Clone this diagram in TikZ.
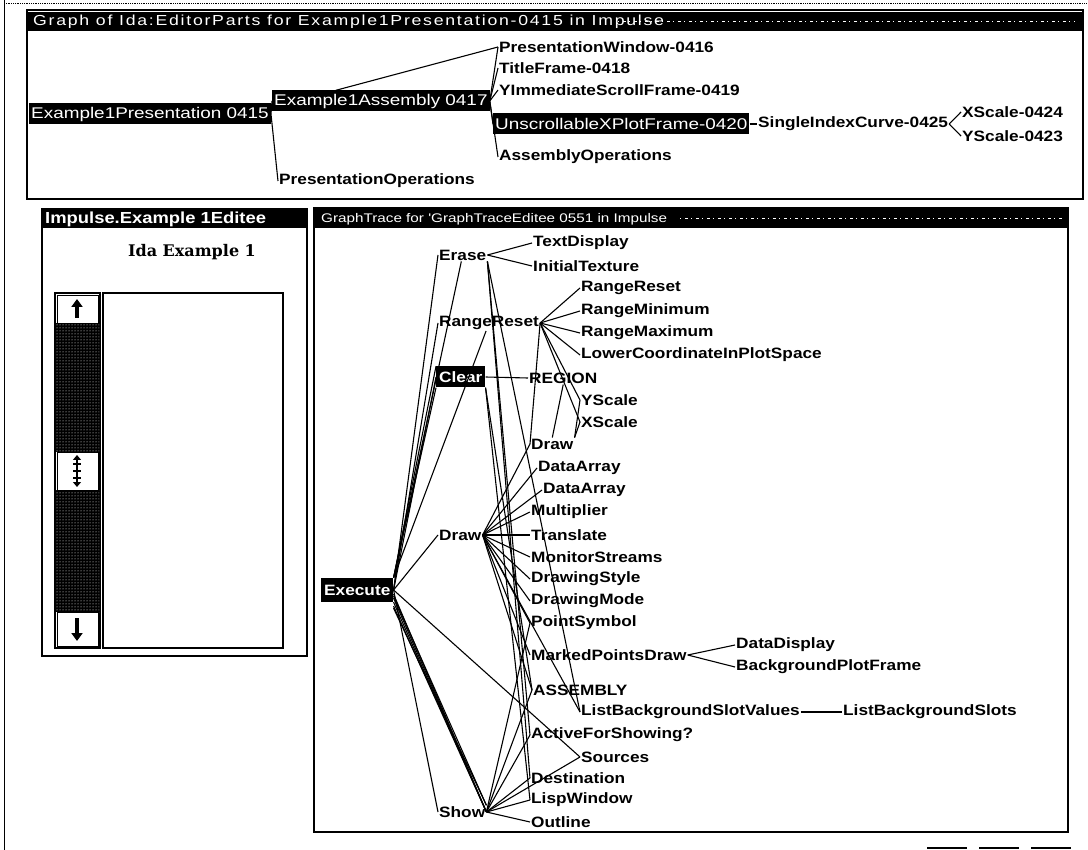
\documentclass[tikz,border=0pt]{standalone}
\usepackage{fontspec}
\setmainfont{Liberation Sans}
\newfontfamily\boxfont[FakeStretch=1.22]{Liberation Sans}
\newfontfamily\lblfont[FakeStretch=1.15]{Liberation Sans}
\newfontfamily\ttlfont[FakeStretch=1.22]{Liberation Sans}
\newfontfamily\gttlfont[FakeStretch=1.22,LetterSpace=12]{Liberation Sans}
\newfontfamily\slabfont{DejaVu Serif}
\usetikzlibrary{arrows.meta,patterns}

\begin{document}
\begin{tikzpicture}[x=1pt,y=-1pt,
  lbl/.style={anchor=west,inner sep=1pt,font=\lblfont\bfseries\fontsize{15}{15}\selectfont},
  blk/.style={anchor=west,fill=black,text=white,inner sep=2pt,minimum height=21pt,font=\boxfont\fontsize{15.5}{15.5}\selectfont},
  bblk/.style={blk,font=\lblfont\bfseries\fontsize{15}{15}\selectfont,inner sep=3pt},
  ttl/.style={anchor=west,text=white,inner sep=0pt},
  win/.style={draw,line width=1.2pt,fill=white},
  tbar/.style={fill=black},
  noise/.style={white!45,line width=1pt,dash pattern=on 1pt off 4pt on 3pt off 3pt},
  edge/.style={line width=1.1pt},
  stip/.style={fill=black,postaction={pattern=dots,pattern color=white}}]
\useasboundingbox (0,0) rectangle (1088,850);
\fill[white] (0,0) rectangle (1088,850);
% screen edges
\draw[line width=1pt] (4,0) -- (4,850);
\draw[line width=0.8pt,densely dotted] (4,3) -- (1086,3);
\draw[line width=1.6pt,dash pattern=on 40pt off 12pt] (927,848) -- (1072,848);

% ---- graph of editor parts
\draw[win] (27,10) rectangle (1083,199);
\fill[tbar] (27,12) rectangle (1083,31);
\node[ttl,font=\gttlfont\fontsize{14.5}{14.5}\selectfont] (gtitle) at (33,22) {Graph of Ida:EditorParts for Example1Presentation-0415 in Impulse};
\draw[noise] (618,22) -- (1075,22);

\node[blk] (pres) at (29,114) {Example1Presentation 0415};
\node[blk] (asm) at (272,101) {Example1Assembly 0417};
\node[lbl] (pops) at (278,181) {PresentationOperations};
\node[lbl] (pwin) at (498,47) {PresentationWindow-0416};
\node[lbl] (tfr) at (498,68) {TitleFrame-0418};
\node[lbl] (yimm) at (498,90) {YImmediateScrollFrame-0419};
\node[blk] (unscr) at (493,124) {UnscrollableXPlotFrame-0420};
\node[lbl] (sic) at (757,124) {SingleIndexCurve-0425};
\node[lbl] (xsc0) at (961,112) {XScale-0424};
\node[lbl] (ysc0) at (961,136) {YScale-0423};
\node[lbl] (aops) at (498,157) {AssemblyOperations};

\draw[edge] (pres.east) -- (asm.west);
\draw[edge] (pres.east) -- (pops.west);
\draw[edge] ([xshift=-45pt]asm.north) -- (pwin.west);
\foreach \c in {pwin,tfr,yimm,unscr,aops}
  \draw[edge] (asm.east) -- (\c.west);
\draw[edge] (unscr.east) -- (sic.west);
\draw[edge] (sic.east) -- (xsc0.west);
\draw[edge] (sic.east) -- (ysc0.west);

% ---- editee window
\draw[win] (42,209) rectangle (307,656);
\fill[tbar] (42,210) rectangle (307,228);
\node[ttl,font=\lblfont\bfseries\fontsize{16}{16}\selectfont] (etitle) at (45,219) {Impulse.Example 1Editee};
\node[font=\slabfont\bfseries\fontsize{16}{16}\selectfont,inner sep=0pt] (ida) at (192,252) {Ida Example 1};
\draw[line width=1.2pt] (55,293) rectangle (100,648);
\fill[stip] (56,323) rectangle (99,452);
\fill[stip] (56,490) rectangle (99,612);
\draw[line width=0.8pt] (57,295) rectangle (98,323) (57,452) rectangle (98,490) (57,612) rectangle (98,646);
\draw[line width=3.4pt,-{Triangle[width=11pt,length=8pt]}] (77,318) -- (77,299);
\draw[line width=3.4pt,-{Triangle[width=11pt,length=8pt]}] (77,618) -- (77,641);
\draw[line width=1.8pt,{Triangle[width=8pt,length=5pt]}-{Triangle[width=8pt,length=5pt]}] (77,455) -- (77,487);
\foreach \t in {464,471,478}
  \draw[line width=1.6pt] (73,\t) -- (81,\t);
\draw[line width=2.2pt] (103,293) rectangle (283,648);

% ---- graph trace window
\draw[win] (314,208) rectangle (1068,832);
\fill[tbar] (314,209) rectangle (1068,228);
\node[ttl,font=\ttlfont\fontsize{12.5}{12.5}\selectfont] (ttitle) at (321,219) {GraphTrace for 'GraphTraceEditee 0551 in Impulse};
\draw[noise] (680,219) -- (1062,219);

\node[bblk,minimum height=24pt] (exe) at (321,590) {Execute};
\node[lbl] (erase) at (438,255) {Erase};
\node[lbl] (txtd) at (532,243) {TextDisplay};
\node[lbl] (itex) at (532,266) {InitialTexture};
\node[lbl] (rrsa) at (438,323) {RangeReset};
\node[lbl] (rrsb) at (580,288) {RangeReset};
\node[lbl] (rmin) at (580,311) {RangeMinimum};
\node[lbl] (rmax) at (580,333) {RangeMaximum};
\node[lbl] (lcps) at (580,355) {LowerCoordinateInPlotSpace};
\node[bblk] (clr) at (436,377) {Clear};
\node[lbl] (regn) at (528,378) {REGION};
\node[lbl] (ysc) at (580,400) {YScale};
\node[lbl] (xsc) at (580,422) {XScale};
\node[lbl] (drwb) at (530,444) {Draw};
\node[lbl] (daa) at (537,468) {DataArray};
\node[lbl] (dab) at (542,490) {DataArray};
\node[lbl] (mult) at (530,512) {Multiplier};
\node[lbl] (drwa) at (438,535) {Draw};
\node[lbl] (trns) at (530,535) {Translate};
\node[lbl] (mons) at (530,557) {MonitorStreams};
\node[lbl] (dsty) at (530,579) {DrawingStyle};
\node[lbl] (dmod) at (530,601) {DrawingMode};
\node[lbl] (psym) at (530,623) {PointSymbol};
\node[lbl] (mpd) at (530,655) {MarkedPointsDraw};
\node[lbl] (ddis) at (735,645) {DataDisplay};
\node[lbl] (bpf) at (735,667) {BackgroundPlotFrame};
\node[lbl] (asmb) at (532,690) {ASSEMBLY};
\node[lbl] (lbsv) at (580,712) {ListBackgroundSlotValues};
\node[lbl] (lbs) at (842,712) {ListBackgroundSlots};
\node[lbl] (afs) at (530,735) {ActiveForShowing?};
\node[lbl] (srcs) at (580,757) {Sources};
\node[lbl] (dest) at (530,778) {Destination};
\node[lbl] (lwin) at (530,800) {LispWindow};
\node[lbl] (show) at (438,812) {Show};
\node[lbl] (outl) at (530,822) {Outline};

% execute fan
\foreach \n in {erase,rrsa,clr,drwa,show}
  \draw[edge] (exe.east) -- (\n.west);
\foreach \n in {erase,rrsa,clr.south west,clr.north west}
  \draw[edge] (exe.north east) -- (\n);
\draw[edge] (exe.east) -- (srcs.west);
\foreach \a in {-4,0,4,8}
  \draw[edge] ([yshift=\a pt]exe.south east) -- (show.east);
\foreach \a in {-6,6}
  \draw[edge] ([yshift=\a pt]exe.south east) -- (show.north east);
% erase
\draw[edge] (erase.east) -- (txtd.west);
\draw[edge] (erase.east) -- (itex.west);
\foreach \n in {lbsv,afs,dest}
  \draw[edge] (erase.south east) -- (\n.west);
% range reset
\foreach \n in {rrsb,rmin,rmax,lcps,ysc,xsc,drwb}
  \draw[edge] (rrsa.east) -- (\n.west);
% clear
\draw[edge] (clr.east) -- (regn.west);
\foreach \n in {asmb,lwin}
  \draw[edge] (clr.south east) -- (\n.west);
\draw[edge] (regn.south) -- (drwb.north);
\draw[edge] (drwb.north east) -- (ysc.west);
\draw[edge] (drwb.north east) -- (xsc.west);
% draw
\foreach \n in {drwb,daa,dab,mult,trns,mons,dsty,dmod,psym,mpd,asmb,lbsv}
  \draw[edge] (drwa.east) -- (\n.west);
\draw[edge] (mpd.east) -- (ddis.west);
\draw[edge] (mpd.east) -- (bpf.west);
\draw[edge] (lbsv.east) -- (lbs.west);
% show
\foreach \n in {afs,srcs,dest,lwin,outl,asmb,psym}
  \draw[edge] (show.east) -- (\n.west);
\end{tikzpicture}
\end{document}
